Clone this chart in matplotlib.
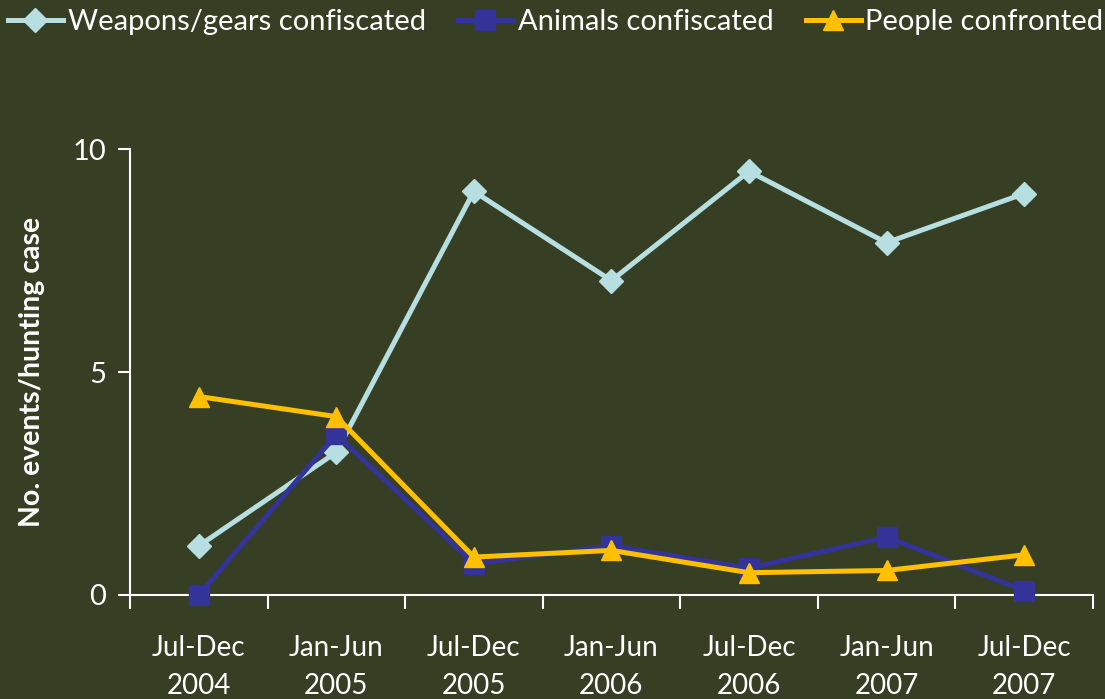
import matplotlib
matplotlib.use("Agg")
import matplotlib.pyplot as plt

categories = ["Jul-Dec\n2004", "Jan-Jun\n2005", "Jul-Dec\n2005", "Jan-Jun\n2006",
              "Jul-Dec\n2006", "Jan-Jun\n2007", "Jul-Dec\n2007"]
weapons = [1.1, 3.2, 9.05, 7.05, 9.5, 7.9, 9.0]
animals = [0.0, 3.6, 0.7, 1.1, 0.6, 1.3, 0.1]
people = [4.45, 4.0, 0.85, 1.0, 0.5, 0.55, 0.9]
yticks = [0, 5, 10]

bg = "#363F23"
plt.rcParams['font.family'] = ['Lato', 'DejaVu Sans']

fig = plt.figure(figsize=(11.05, 6.99), dpi=100, facecolor=bg)
ax = fig.add_axes([0.1176, 0.1488, 0.8714, 0.638])
ax.set_facecolor(bg)

x = list(range(len(categories)))
ax.plot(x, weapons, color="#B7DEE0", lw=3.6, marker="D", ms=12, label="Weapons/gears confiscated",
        zorder=3, clip_on=False)
ax.plot(x, animals, color="#333399", lw=3.6, marker="s", ms=14, label="Animals confiscated",
        zorder=4, clip_on=False)
ax.plot(x, people, color="#FFC000", lw=3.6, marker="^", ms=15, label="People confronted",
        zorder=5, clip_on=False)

ax.set_xlim(-0.5, len(categories) - 0.5)
ax.set_ylim(0, 10)
ax.set_yticks(yticks)
ax.set_xticks([i - 0.5 for i in range(len(categories) + 1)], minor=False)
ax.set_xticklabels([])
ax.set_xticks(x, minor=True)
ax.set_xticklabels(categories, minor=True)
ax.tick_params(axis='x', which='major', length=10, width=1.5, color="white", direction="out")
ax.tick_params(axis='x', which='minor', length=0, colors="white", labelsize=20, pad=29)
ax.tick_params(axis='y', length=9, width=1.5, color="white", labelcolor="white", labelsize=21, pad=8)
for lbl in ax.get_xticklabels(minor=True):
    lbl.set_linespacing(1.55)

for s in ["top", "right"]:
    ax.spines[s].set_visible(False)
for s in ["left", "bottom"]:
    ax.spines[s].set_color("white")
    ax.spines[s].set_linewidth(1.5)
    ax.spines[s].set_zorder(2)

ax.set_ylabel("No. events/hunting case", color="white", fontsize=20.5, fontweight="bold")
ax.yaxis.set_label_coords(-0.088, 0.5)

leg = fig.legend(loc="upper center", bbox_to_anchor=(0.503, 1.024), ncol=3, frameon=False,
                 fontsize=21, labelcolor="white", handlelength=1.88, handletextpad=0.17,
                 columnspacing=1.1)

fig.savefig("out.png", dpi=100, facecolor=bg)
